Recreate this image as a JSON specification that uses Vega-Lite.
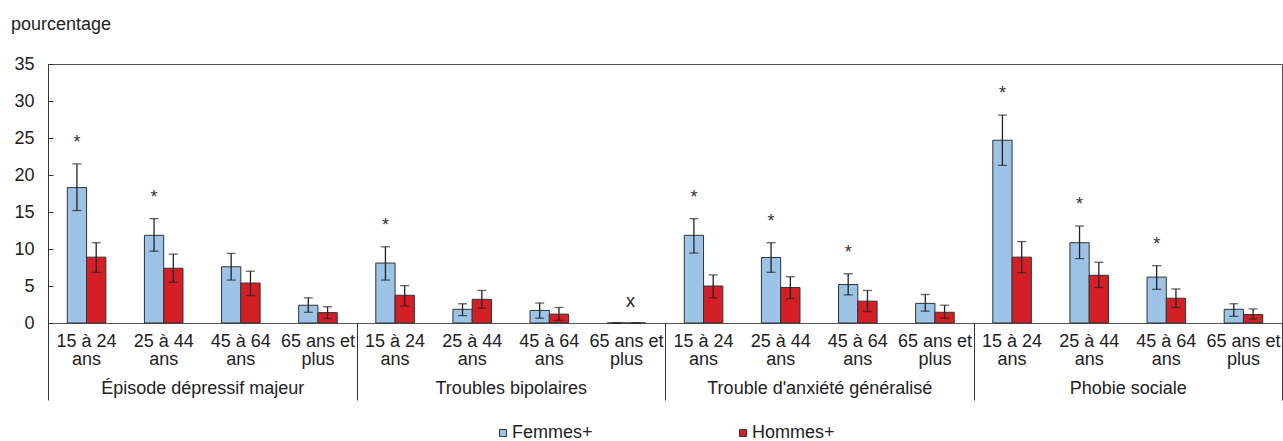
{
  "$schema": "https://vega.github.io/schema/vega-lite/v6.json",
  "width": 1234,
  "height": 259,
  "autosize": {"type": "none"},
  "padding": {"left": 48, "top": 64, "right": 1, "bottom": 118},
  "background": "white",
  "title": {"text": "pourcentage", "anchor": "start", "frame": "bounds", "fontSize": 18, "fontWeight": "normal", "color": "#222", "font": "Liberation Sans", "offset": 21, "dx": -3},
  "config": {
    "font": "Liberation Sans",
    "view": {"stroke": "#555", "strokeWidth": 1},
    "axis": {"labelFont": "Liberation Sans", "labelFontSize": 18, "labelColor": "#222", "grid": false, "title": null},
    "axisY": {"tickSize": -5, "labelPadding": 19, "labelOverlap": false, "labelFlush": false, "domainColor": "#333", "tickColor": "#333"}
  },
  "data": {"values": [
    {"disorder": "Épisode dépressif majeur", "cat": "EDM|15 à 24|ans", "sex": "Femmes+", "value": 18.3, "lower": 15.2, "upper": 21.5, "sig": "*", "flag": ""},
    {"disorder": "Épisode dépressif majeur", "cat": "EDM|15 à 24|ans", "sex": "Hommes+", "value": 8.9, "lower": 6.85, "upper": 10.85, "sig": "", "flag": ""},
    {"disorder": "Épisode dépressif majeur", "cat": "EDM|25 à 44|ans", "sex": "Femmes+", "value": 11.85, "lower": 9.7, "upper": 14.1, "sig": "*", "flag": ""},
    {"disorder": "Épisode dépressif majeur", "cat": "EDM|25 à 44|ans", "sex": "Hommes+", "value": 7.4, "lower": 5.5, "upper": 9.3, "sig": "", "flag": ""},
    {"disorder": "Épisode dépressif majeur", "cat": "EDM|45 à 64|ans", "sex": "Femmes+", "value": 7.6, "lower": 5.8, "upper": 9.4, "sig": "", "flag": ""},
    {"disorder": "Épisode dépressif majeur", "cat": "EDM|45 à 64|ans", "sex": "Hommes+", "value": 5.4, "lower": 3.7, "upper": 7.0, "sig": "", "flag": ""},
    {"disorder": "Épisode dépressif majeur", "cat": "EDM|65 ans et|plus", "sex": "Femmes+", "value": 2.4, "lower": 1.45, "upper": 3.4, "sig": "", "flag": ""},
    {"disorder": "Épisode dépressif majeur", "cat": "EDM|65 ans et|plus", "sex": "Hommes+", "value": 1.4, "lower": 0.6, "upper": 2.2, "sig": "", "flag": ""},
    {"disorder": "Troubles bipolaires", "cat": "TB|15 à 24|ans", "sex": "Femmes+", "value": 8.1, "lower": 5.8, "upper": 10.3, "sig": "*", "flag": ""},
    {"disorder": "Troubles bipolaires", "cat": "TB|15 à 24|ans", "sex": "Hommes+", "value": 3.75, "lower": 2.3, "upper": 5.05, "sig": "", "flag": ""},
    {"disorder": "Troubles bipolaires", "cat": "TB|25 à 44|ans", "sex": "Femmes+", "value": 1.85, "lower": 1.0, "upper": 2.6, "sig": "", "flag": ""},
    {"disorder": "Troubles bipolaires", "cat": "TB|25 à 44|ans", "sex": "Hommes+", "value": 3.2, "lower": 2.0, "upper": 4.4, "sig": "", "flag": ""},
    {"disorder": "Troubles bipolaires", "cat": "TB|45 à 64|ans", "sex": "Femmes+", "value": 1.7, "lower": 0.65, "upper": 2.7, "sig": "", "flag": ""},
    {"disorder": "Troubles bipolaires", "cat": "TB|45 à 64|ans", "sex": "Hommes+", "value": 1.2, "lower": 0.35, "upper": 2.1, "sig": "", "flag": ""},
    {"disorder": "Troubles bipolaires", "cat": "TB|65 ans et|plus", "sex": "Femmes+", "value": 0, "lower": 0, "upper": 0, "sig": "", "flag": "x"},
    {"disorder": "Troubles bipolaires", "cat": "TB|65 ans et|plus", "sex": "Hommes+", "value": 0, "lower": 0, "upper": 0, "sig": "", "flag": ""},
    {"disorder": "Trouble d'anxiété généralisé", "cat": "TAG|15 à 24|ans", "sex": "Femmes+", "value": 11.85, "lower": 9.45, "upper": 14.1, "sig": "*", "flag": ""},
    {"disorder": "Trouble d'anxiété généralisé", "cat": "TAG|15 à 24|ans", "sex": "Hommes+", "value": 5.0, "lower": 3.4, "upper": 6.5, "sig": "", "flag": ""},
    {"disorder": "Trouble d'anxiété généralisé", "cat": "TAG|25 à 44|ans", "sex": "Femmes+", "value": 8.85, "lower": 6.85, "upper": 10.85, "sig": "*", "flag": ""},
    {"disorder": "Trouble d'anxiété généralisé", "cat": "TAG|25 à 44|ans", "sex": "Hommes+", "value": 4.8, "lower": 3.3, "upper": 6.25, "sig": "", "flag": ""},
    {"disorder": "Trouble d'anxiété généralisé", "cat": "TAG|45 à 64|ans", "sex": "Femmes+", "value": 5.2, "lower": 3.8, "upper": 6.65, "sig": "*", "flag": ""},
    {"disorder": "Trouble d'anxiété généralisé", "cat": "TAG|45 à 64|ans", "sex": "Hommes+", "value": 2.95, "lower": 1.55, "upper": 4.4, "sig": "", "flag": ""},
    {"disorder": "Trouble d'anxiété généralisé", "cat": "TAG|65 ans et|plus", "sex": "Femmes+", "value": 2.65, "lower": 1.6, "upper": 3.85, "sig": "", "flag": ""},
    {"disorder": "Trouble d'anxiété généralisé", "cat": "TAG|65 ans et|plus", "sex": "Hommes+", "value": 1.45, "lower": 0.65, "upper": 2.4, "sig": "", "flag": ""},
    {"disorder": "Phobie sociale", "cat": "PS|15 à 24|ans", "sex": "Femmes+", "value": 24.7, "lower": 21.3, "upper": 28.1, "sig": "*", "flag": ""},
    {"disorder": "Phobie sociale", "cat": "PS|15 à 24|ans", "sex": "Hommes+", "value": 8.9, "lower": 6.8, "upper": 11.0, "sig": "", "flag": ""},
    {"disorder": "Phobie sociale", "cat": "PS|25 à 44|ans", "sex": "Femmes+", "value": 10.85, "lower": 8.7, "upper": 13.1, "sig": "*", "flag": ""},
    {"disorder": "Phobie sociale", "cat": "PS|25 à 44|ans", "sex": "Hommes+", "value": 6.45, "lower": 4.8, "upper": 8.2, "sig": "", "flag": ""},
    {"disorder": "Phobie sociale", "cat": "PS|45 à 64|ans", "sex": "Femmes+", "value": 6.2, "lower": 4.55, "upper": 7.75, "sig": "*", "flag": ""},
    {"disorder": "Phobie sociale", "cat": "PS|45 à 64|ans", "sex": "Hommes+", "value": 3.35, "lower": 2.1, "upper": 4.6, "sig": "", "flag": ""},
    {"disorder": "Phobie sociale", "cat": "PS|65 ans et|plus", "sex": "Femmes+", "value": 1.85, "lower": 0.9, "upper": 2.6, "sig": "", "flag": ""},
    {"disorder": "Phobie sociale", "cat": "PS|65 ans et|plus", "sex": "Hommes+", "value": 1.15, "lower": 0.55, "upper": 1.9, "sig": "", "flag": ""}
  ]},
  "layer": [
    {
      "encoding": {
        "x": {"field": "cat", "type": "nominal", "sort": null,
          "scale": {"type": "band", "paddingInner": 0, "paddingOuter": 0},
          "axis": {"orient": "bottom", "title": null, "labelExpr": "[split(datum.value,'|')[1], split(datum.value,'|')[2]]", "labelAngle": 0, "ticks": false, "labelPadding": 9, "labelLineHeight": 18, "domainColor": "#555", "labelBaseline": "top", "labelOverlap": false}}
      },
      "layer": [
        {
          "mark": {"type": "bar", "stroke": "#333", "strokeWidth": 1},
          "encoding": {
            "xOffset": {"field": "sex", "type": "nominal", "scale": {"paddingInner": 0, "paddingOuter": 1.03}},
            "y": {"field": "value", "type": "quantitative", "scale": {"domain": [0, 35], "nice": false},
              "axis": {"values": [0, 5, 10, 15, 20, 25, 30, 35], "title": null}},
            "color": {"field": "sex", "type": "nominal",
              "scale": {"domain": ["Femmes+", "Hommes+"], "range": ["#9DC3E6", "#D51F26"]},
              "legend": {"orient": "none", "legendX": 446, "legendY": 360, "direction": "horizontal", "title": null, "symbolType": "square", "symbolSize": 50, "symbolStrokeColor": "#333", "symbolStrokeWidth": 1, "labelFontSize": 18, "labelColor": "#222", "columnPadding": 141, "labelOffset": 0}}
          }
        },
        {
          "mark": {"type": "rule", "color": "#222", "strokeWidth": 1.3},
          "encoding": {
            "xOffset": {"field": "sex", "type": "nominal"},
            "y": {"field": "lower", "type": "quantitative", "axis": {"values": [0, 5, 10, 15, 20, 25, 30, 35], "title": null}},
            "y2": {"field": "upper"}
          }
        },
        {
          "mark": {"type": "tick", "color": "#222", "size": 9, "thickness": 1.3},
          "encoding": {
            "xOffset": {"field": "sex", "type": "nominal"},
            "y": {"field": "upper", "type": "quantitative", "axis": {"values": [0, 5, 10, 15, 20, 25, 30, 35], "title": null}}
          }
        },
        {
          "mark": {"type": "tick", "color": "#222", "size": 9, "thickness": 1.3},
          "encoding": {
            "xOffset": {"field": "sex", "type": "nominal"},
            "y": {"field": "lower", "type": "quantitative", "axis": {"values": [0, 5, 10, 15, 20, 25, 30, 35], "title": null}}
          }
        },
        {
          "mark": {"type": "text", "fontSize": 18, "color": "#333", "baseline": "alphabetic", "dy": -16},
          "encoding": {
            "xOffset": {"field": "sex", "type": "nominal"},
            "y": {"field": "upper", "type": "quantitative", "axis": {"values": [0, 5, 10, 15, 20, 25, 30, 35], "title": null}},
            "text": {"field": "sig"}
          }
        },
        {
          "mark": {"type": "text", "fontSize": 18, "color": "#222", "baseline": "alphabetic", "dy": -16, "dx": 4},
          "encoding": {
            "y": {"field": "value", "type": "quantitative", "axis": {"values": [0, 5, 10, 15, 20, 25, 30, 35], "title": null}},
            "text": {"field": "flag"}
          }
        }
      ]
    },
    {
      "mark": {"type": "bar", "opacity": 0},
      "encoding": {
        "x": {"field": "disorder", "type": "nominal", "sort": null,
          "scale": {"type": "band", "paddingInner": 0, "paddingOuter": 0},
          "axis": {"orient": "bottom", "title": null, "domain": false, "ticks": true, "tickBand": "extent", "tickSize": 77, "tickColor": "#333", "labelAngle": 0, "labelPadding": -21, "labelFontSize": 18, "labelBaseline": "top", "labelLimit": 400, "labelOverlap": false}}
      }
    }
  ],
  "resolve": {"scale": {"x": "independent"}, "axis": {"x": "independent"}}
}
